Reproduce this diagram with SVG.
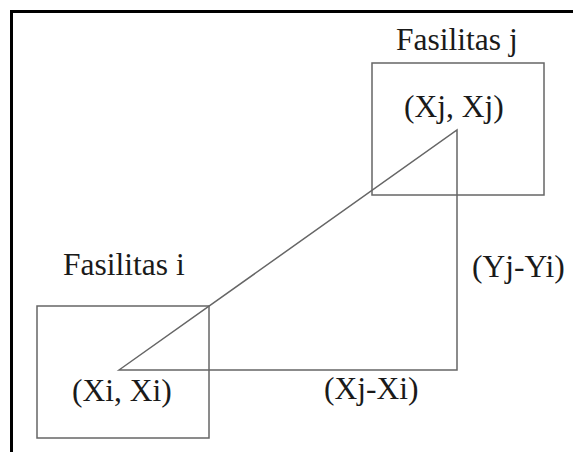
<svg xmlns="http://www.w3.org/2000/svg" width="573" height="452" viewBox="0 0 573 452">
<style>
.box{fill:none;stroke:#666;stroke-width:1.5}
.conn{fill:none;stroke:#666;stroke-width:1.5}
.frame{fill:none;stroke:#000;stroke-width:3}
text{font-family:"Liberation Serif","Times New Roman",serif;font-size:31.5px;fill:#1a1a1a}
</style>
<rect width="573" height="452" fill="#fff"/>
<path class="frame" d="M11.5,460 V11.5 H580"/>
<g id="connectors">
<path class="conn" d="M119,370 L457,130 L457,370 Z"/>
</g>
<g id="fasilitas-j">
<rect class="box" x="372" y="63" width="172" height="132"/>
<text x="396" y="50">Fasilitas j</text>
<text x="404" y="117">(Xj, Xj)</text>
</g>
<g id="fasilitas-i">
<rect class="box" x="37" y="306" width="172" height="132"/>
<text x="63" y="275">Fasilitas i</text>
<text x="72" y="401">(Xi, Xi)</text>
</g>
<g id="labels">
<text x="324" y="399">(Xj-Xi)</text>
<text x="472" y="277">(Yj-Yi)</text>
</g>
</svg>
